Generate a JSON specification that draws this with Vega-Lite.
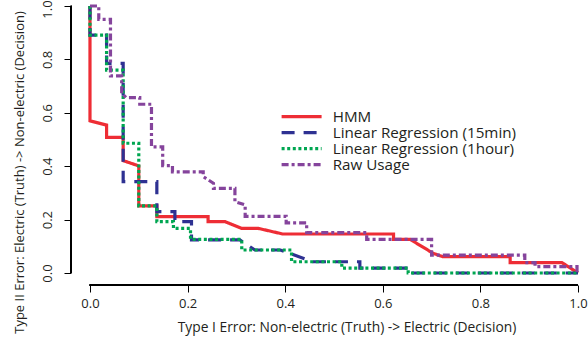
{
  "$schema": "https://vega.github.io/schema/vega-lite/v6.json",
  "width": 517,
  "height": 284,
  "autosize": {"type": "none"},
  "padding": {"left": 71, "top": 1, "right": 0, "bottom": 54},
  "background": "white",
  "config": {
    "view": {"stroke": null},
    "font": "Open Sans",
    "axis": {"grid": false, "domain": false, "tickColor": "#000000", "tickWidth": 1, "tickSize": 7, "labelColor": "#231f20", "titleColor": "#231f20", "labelFont": "Open Sans", "titleFont": "Open Sans", "titleFontWeight": "normal"}
  },
  "data": {
    "values": [
      {"s": "HMM", "i": 0, "x": 0, "y": 1.0},
      {"s": "HMM", "i": 1, "x": 0, "y": 0.57},
      {"s": "HMM", "i": 2, "x": 0.034, "y": 0.554},
      {"s": "HMM", "i": 3, "x": 0.034, "y": 0.508},
      {"s": "HMM", "i": 4, "x": 0.068, "y": 0.508},
      {"s": "HMM", "i": 5, "x": 0.068, "y": 0.421},
      {"s": "HMM", "i": 6, "x": 0.1, "y": 0.401},
      {"s": "HMM", "i": 7, "x": 0.1, "y": 0.251},
      {"s": "HMM", "i": 8, "x": 0.137, "y": 0.251},
      {"s": "HMM", "i": 9, "x": 0.137, "y": 0.211},
      {"s": "HMM", "i": 10, "x": 0.242, "y": 0.211},
      {"s": "HMM", "i": 11, "x": 0.242, "y": 0.192},
      {"s": "HMM", "i": 12, "x": 0.277, "y": 0.192},
      {"s": "HMM", "i": 13, "x": 0.311, "y": 0.167},
      {"s": "HMM", "i": 14, "x": 0.345, "y": 0.167},
      {"s": "HMM", "i": 15, "x": 0.395, "y": 0.146},
      {"s": "HMM", "i": 16, "x": 0.622, "y": 0.146},
      {"s": "HMM", "i": 17, "x": 0.622, "y": 0.126},
      {"s": "HMM", "i": 18, "x": 0.656, "y": 0.126},
      {"s": "HMM", "i": 19, "x": 0.703, "y": 0.074},
      {"s": "HMM", "i": 20, "x": 0.723, "y": 0.061},
      {"s": "HMM", "i": 21, "x": 0.861, "y": 0.061},
      {"s": "HMM", "i": 22, "x": 0.861, "y": 0.039},
      {"s": "HMM", "i": 23, "x": 0.967, "y": 0.039},
      {"s": "HMM", "i": 24, "x": 1.0, "y": 0.0},

      {"s": "Linear Regression (15min)", "i": 0, "x": 0, "y": 1.0},
      {"s": "Linear Regression (15min)", "i": 1, "x": 0, "y": 0.891},
      {"s": "Linear Regression (15min)", "i": 2, "x": 0.034, "y": 0.891},
      {"s": "Linear Regression (15min)", "i": 3, "x": 0.034, "y": 0.785},
      {"s": "Linear Regression (15min)", "i": 4, "x": 0.068, "y": 0.785},
      {"s": "Linear Regression (15min)", "i": 5, "x": 0.068, "y": 0.342},
      {"s": "Linear Regression (15min)", "i": 6, "x": 0.137, "y": 0.342},
      {"s": "Linear Regression (15min)", "i": 7, "x": 0.137, "y": 0.23},
      {"s": "Linear Regression (15min)", "i": 8, "x": 0.174, "y": 0.23},
      {"s": "Linear Regression (15min)", "i": 9, "x": 0.174, "y": 0.192},
      {"s": "Linear Regression (15min)", "i": 10, "x": 0.208, "y": 0.192},
      {"s": "Linear Regression (15min)", "i": 11, "x": 0.208, "y": 0.124},
      {"s": "Linear Regression (15min)", "i": 12, "x": 0.307, "y": 0.124},
      {"s": "Linear Regression (15min)", "i": 13, "x": 0.338, "y": 0.086},
      {"s": "Linear Regression (15min)", "i": 14, "x": 0.39, "y": 0.086},
      {"s": "Linear Regression (15min)", "i": 15, "x": 0.457, "y": 0.042},
      {"s": "Linear Regression (15min)", "i": 16, "x": 0.553, "y": 0.042},
      {"s": "Linear Regression (15min)", "i": 17, "x": 0.553, "y": 0.018},
      {"s": "Linear Regression (15min)", "i": 18, "x": 0.652, "y": 0.018},
      {"s": "Linear Regression (15min)", "i": 19, "x": 0.652, "y": 0.0},
      {"s": "Linear Regression (15min)", "i": 20, "x": 1.0, "y": 0.0},

      {"s": "Linear Regression (1hour)", "i": 0, "x": 0, "y": 1.0},
      {"s": "Linear Regression (1hour)", "i": 1, "x": 0, "y": 0.891},
      {"s": "Linear Regression (1hour)", "i": 2, "x": 0.034, "y": 0.891},
      {"s": "Linear Regression (1hour)", "i": 3, "x": 0.034, "y": 0.76},
      {"s": "Linear Regression (1hour)", "i": 4, "x": 0.068, "y": 0.76},
      {"s": "Linear Regression (1hour)", "i": 5, "x": 0.068, "y": 0.486},
      {"s": "Linear Regression (1hour)", "i": 6, "x": 0.1, "y": 0.486},
      {"s": "Linear Regression (1hour)", "i": 7, "x": 0.1, "y": 0.251},
      {"s": "Linear Regression (1hour)", "i": 8, "x": 0.137, "y": 0.251},
      {"s": "Linear Regression (1hour)", "i": 9, "x": 0.137, "y": 0.192},
      {"s": "Linear Regression (1hour)", "i": 10, "x": 0.171, "y": 0.192},
      {"s": "Linear Regression (1hour)", "i": 11, "x": 0.171, "y": 0.167},
      {"s": "Linear Regression (1hour)", "i": 12, "x": 0.206, "y": 0.167},
      {"s": "Linear Regression (1hour)", "i": 13, "x": 0.206, "y": 0.126},
      {"s": "Linear Regression (1hour)", "i": 14, "x": 0.311, "y": 0.126},
      {"s": "Linear Regression (1hour)", "i": 15, "x": 0.311, "y": 0.086},
      {"s": "Linear Regression (1hour)", "i": 16, "x": 0.413, "y": 0.086},
      {"s": "Linear Regression (1hour)", "i": 17, "x": 0.413, "y": 0.042},
      {"s": "Linear Regression (1hour)", "i": 18, "x": 0.516, "y": 0.042},
      {"s": "Linear Regression (1hour)", "i": 19, "x": 0.516, "y": 0.018},
      {"s": "Linear Regression (1hour)", "i": 20, "x": 0.652, "y": 0.018},
      {"s": "Linear Regression (1hour)", "i": 21, "x": 0.652, "y": 0.0},
      {"s": "Linear Regression (1hour)", "i": 22, "x": 1.0, "y": 0.0},

      {"s": "Raw Usage", "i": 0, "x": 0, "y": 1.0},
      {"s": "Raw Usage", "i": 1, "x": 0.018, "y": 1.0},
      {"s": "Raw Usage", "i": 2, "x": 0.018, "y": 0.95},
      {"s": "Raw Usage", "i": 3, "x": 0.042, "y": 0.95},
      {"s": "Raw Usage", "i": 4, "x": 0.042, "y": 0.738},
      {"s": "Raw Usage", "i": 5, "x": 0.065, "y": 0.738},
      {"s": "Raw Usage", "i": 6, "x": 0.065, "y": 0.673},
      {"s": "Raw Usage", "i": 7, "x": 0.074, "y": 0.657},
      {"s": "Raw Usage", "i": 8, "x": 0.102, "y": 0.657},
      {"s": "Raw Usage", "i": 9, "x": 0.102, "y": 0.632},
      {"s": "Raw Usage", "i": 10, "x": 0.126, "y": 0.632},
      {"s": "Raw Usage", "i": 11, "x": 0.126, "y": 0.472},
      {"s": "Raw Usage", "i": 12, "x": 0.149, "y": 0.472},
      {"s": "Raw Usage", "i": 13, "x": 0.149, "y": 0.402},
      {"s": "Raw Usage", "i": 14, "x": 0.169, "y": 0.402},
      {"s": "Raw Usage", "i": 15, "x": 0.169, "y": 0.379},
      {"s": "Raw Usage", "i": 16, "x": 0.232, "y": 0.379},
      {"s": "Raw Usage", "i": 17, "x": 0.232, "y": 0.361},
      {"s": "Raw Usage", "i": 18, "x": 0.253, "y": 0.336},
      {"s": "Raw Usage", "i": 19, "x": 0.253, "y": 0.317},
      {"s": "Raw Usage", "i": 20, "x": 0.297, "y": 0.317},
      {"s": "Raw Usage", "i": 21, "x": 0.297, "y": 0.267},
      {"s": "Raw Usage", "i": 22, "x": 0.318, "y": 0.255},
      {"s": "Raw Usage", "i": 23, "x": 0.318, "y": 0.212},
      {"s": "Raw Usage", "i": 24, "x": 0.402, "y": 0.212},
      {"s": "Raw Usage", "i": 25, "x": 0.402, "y": 0.188},
      {"s": "Raw Usage", "i": 26, "x": 0.444, "y": 0.188},
      {"s": "Raw Usage", "i": 27, "x": 0.444, "y": 0.151},
      {"s": "Raw Usage", "i": 28, "x": 0.567, "y": 0.151},
      {"s": "Raw Usage", "i": 29, "x": 0.567, "y": 0.126},
      {"s": "Raw Usage", "i": 30, "x": 0.7, "y": 0.126},
      {"s": "Raw Usage", "i": 31, "x": 0.7, "y": 0.067},
      {"s": "Raw Usage", "i": 32, "x": 0.891, "y": 0.067},
      {"s": "Raw Usage", "i": 33, "x": 0.891, "y": 0.039},
      {"s": "Raw Usage", "i": 34, "x": 0.912, "y": 0.039},
      {"s": "Raw Usage", "i": 35, "x": 0.912, "y": 0.024},
      {"s": "Raw Usage", "i": 36, "x": 0.998, "y": 0.024},
      {"s": "Raw Usage", "i": 37, "x": 0.998, "y": 0.004}
    ]
  },
  "layer": [
    {
      "mark": {"type": "rule", "color": "#000000", "strokeWidth": 1},
      "encoding": {
        "x": {"datum": 0, "type": "quantitative"},
        "x2": {"datum": 1},
        "y": {"datum": -0.045, "type": "quantitative"}
      }
    },
    {
      "mark": {"type": "rule", "color": "#000000", "strokeWidth": 1},
      "encoding": {
        "x": {"datum": -0.0389, "type": "quantitative"},
        "y": {"datum": 0, "type": "quantitative"},
        "y2": {"datum": 1}
      }
    },
    {
      "mark": {"type": "line", "strokeWidth": 3.2, "strokeCap": "butt", "strokeJoin": "miter"},
      "encoding": {
        "x": {
          "field": "x", "type": "quantitative",
          "scale": {"domain": [-0.0389, 1.0205], "nice": false, "zero": false},
          "axis": {
            "values": [0, 0.2, 0.4, 0.6, 0.8, 1.0], "format": ".1f",
            "labelFontSize": 13, "labelPadding": 11, "labelBaseline": "middle", "labelFlush": false,
            "title": "Type I Error: Non-electric (Truth) -> Electric (Decision)",
            "titleFontSize": 13.8, "titleX": 275.5, "titleY": 42, "titleBaseline": "middle", "titleAlign": "center", "titleAnchor": null
          }
        },
        "y": {
          "field": "y", "type": "quantitative",
          "scale": {"domain": [-0.045, 1.0187], "nice": false, "zero": false},
          "axis": {
            "values": [0, 0.2, 0.4, 0.6, 0.8, 1.0], "format": ".1f",
            "labelFontSize": 13, "labelAngle": 270, "labelAlign": "center", "labelBaseline": "middle", "labelPadding": 17, "labelFlush": false,
            "labelOffset": {"condition": {"test": "datum.value === 1", "value": 3}, "value": 0},
            "title": "Type II Error: Electric (Truth) -> Non-electric (Decision)",
            "titleFontSize": 13, "titleX": -52, "titleY": 171, "titleAngle": 270, "titleBaseline": "middle", "titleAlign": "center", "titleAnchor": null
          }
        },
        "order": {"field": "i", "type": "quantitative"},
        "color": {
          "field": "s", "type": "nominal",
          "scale": {"domain": ["HMM", "Linear Regression (15min)", "Linear Regression (1hour)", "Raw Usage"], "range": ["#ee2d35", "#2e3192", "#00a651", "#85449c"]},
          "legend": {"orient": "none", "legendX": 223, "legendY": 108, "title": null, "symbolType": "M-4,0H4", "symbolSize": 100, "symbolStrokeWidth": 3.2, "labelFontSize": 15.2, "labelFont": "Open Sans", "labelColor": "#231f20", "labelOffset": 23.5, "labelLimit": 400, "rowPadding": -1.5, "padding": 0}
        },
        "strokeDash": {
          "field": "s", "type": "nominal",
          "scale": {"domain": ["HMM", "Linear Regression (15min)", "Linear Regression (1hour)", "Raw Usage"], "range": [[1, 0], [13, 9], [3, 2.6], [7, 3, 3, 3]]},
          "legend": {"orient": "none", "legendX": 223, "legendY": 108, "title": null, "symbolType": "M-4,0H4", "symbolSize": 100, "symbolStrokeWidth": 3.2, "labelFontSize": 15.2, "labelFont": "Open Sans", "labelColor": "#231f20", "labelOffset": 23.5, "labelLimit": 400, "rowPadding": -1.5, "padding": 0}
        }
      }
    }
  ]
}
